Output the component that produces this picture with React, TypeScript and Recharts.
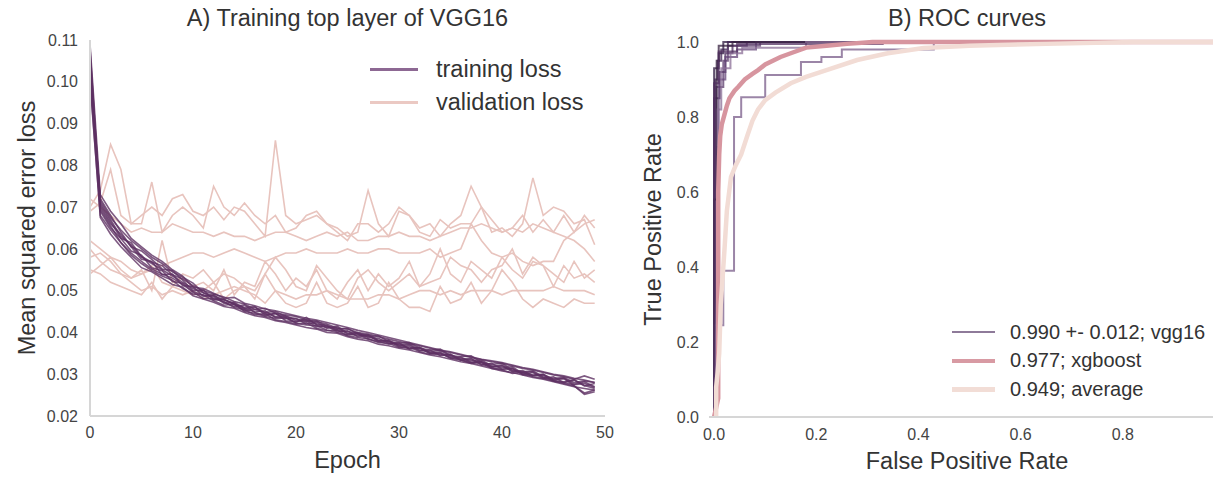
import React from 'react';
import { LineChart, Line, XAxis, YAxis, Legend } from 'recharts';

// ---- A) training / validation loss, 50 epochs ----
const EPOCHS = Array.from({ length: 50 }, (_, i) => i);
const EPOCH_TICKS = [0, 10, 20, 30, 40, 50];
const LOSS_TICKS = [0.02, 0.03, 0.04, 0.05, 0.06, 0.07, 0.08, 0.09, 0.1, 0.11];

const TRAIN_0 = [0.107,0.071,0.067,0.063,0.061,0.058,0.0565,0.055,0.0535,0.052,0.0505,0.0495,0.0482,0.0478,0.0468,0.0452,0.0455,0.0447,0.0438,0.044,0.0428,0.0431,0.042,0.0418,0.0405,0.0402,0.0398,0.0388,0.0386,0.0374,0.0372,0.0362,0.0365,0.0352,0.035,0.034,0.0341,0.0328,0.033,0.0318,0.032,0.0306,0.0309,0.0297,0.03,0.0288,0.029,0.0276,0.0282,0.027];
const TRAIN_1 = [0.105,0.069,0.065,0.0625,0.0595,0.0585,0.0555,0.0548,0.0522,0.0518,0.0498,0.0489,0.0486,0.047,0.0472,0.0458,0.0449,0.0452,0.0436,0.0433,0.0434,0.042,0.0424,0.041,0.0412,0.0396,0.0399,0.0392,0.038,0.0382,0.0368,0.037,0.0356,0.0358,0.0345,0.0347,0.0333,0.0336,0.0322,0.0326,0.0312,0.0314,0.03,0.0304,0.029,0.0294,0.028,0.0286,0.0272,0.0278];
const TRAIN_2 = [0.102,0.072,0.068,0.064,0.0605,0.0575,0.057,0.0538,0.054,0.0512,0.051,0.0486,0.049,0.0472,0.0462,0.0466,0.0448,0.044,0.0446,0.0428,0.0426,0.0428,0.0414,0.0416,0.0401,0.0404,0.039,0.0393,0.0379,0.0372,0.0376,0.036,0.0362,0.035,0.0353,0.0339,0.0336,0.0338,0.0324,0.0318,0.0322,0.0308,0.0304,0.0306,0.0292,0.0286,0.029,0.0272,0.0252,0.0258];
const TRAIN_3 = [0.108,0.07,0.066,0.0635,0.0605,0.0595,0.0575,0.0552,0.0548,0.0525,0.05,0.0502,0.0478,0.048,0.0466,0.046,0.0462,0.0442,0.0445,0.0435,0.0424,0.0436,0.0418,0.0412,0.0415,0.0398,0.0392,0.0395,0.0382,0.0378,0.037,0.0372,0.0358,0.0354,0.0357,0.0343,0.0338,0.0332,0.0334,0.032,0.0316,0.0318,0.0302,0.0298,0.03,0.0285,0.0282,0.0287,0.0273,0.0266];
const TRAIN_4 = [0.1,0.068,0.0645,0.0615,0.0585,0.0565,0.0548,0.0535,0.0525,0.0505,0.0492,0.049,0.0476,0.0465,0.0468,0.045,0.0446,0.0438,0.0434,0.0436,0.0422,0.0418,0.0416,0.0406,0.04,0.0394,0.0396,0.0384,0.0378,0.038,0.0366,0.0362,0.0364,0.035,0.0346,0.0348,0.0334,0.0328,0.033,0.0316,0.0312,0.0314,0.0299,0.0296,0.0298,0.0283,0.028,0.0275,0.0278,0.0268];
const TRAIN_5 = [0.106,0.0705,0.0665,0.0625,0.0615,0.0582,0.0568,0.056,0.0538,0.0528,0.0512,0.05,0.0492,0.0485,0.0474,0.0468,0.0455,0.0458,0.0446,0.0442,0.0438,0.043,0.0426,0.042,0.041,0.0408,0.04,0.0396,0.039,0.0384,0.0378,0.0373,0.0368,0.0362,0.0356,0.0352,0.0346,0.034,0.0335,0.033,0.0326,0.032,0.0314,0.031,0.0304,0.0298,0.0294,0.0288,0.0296,0.0288];
const TRAIN_6 = [0.103,0.0695,0.0655,0.0615,0.059,0.057,0.0552,0.054,0.053,0.0515,0.0496,0.0482,0.048,0.0474,0.046,0.0455,0.0442,0.0445,0.043,0.0426,0.042,0.0423,0.041,0.0404,0.0406,0.0392,0.0388,0.0385,0.0376,0.0374,0.0364,0.0366,0.0354,0.0348,0.035,0.0338,0.0334,0.0326,0.0328,0.0314,0.031,0.0302,0.0305,0.0294,0.029,0.0284,0.0278,0.0272,0.0255,0.0262];
const TRAIN_7 = [0.104,0.0715,0.0675,0.0645,0.062,0.06,0.058,0.0565,0.0545,0.0532,0.0518,0.0495,0.0488,0.0478,0.047,0.0456,0.046,0.0448,0.045,0.0438,0.0432,0.0426,0.0428,0.0414,0.0408,0.041,0.0396,0.039,0.0392,0.0378,0.0374,0.0376,0.0362,0.0358,0.036,0.0345,0.0342,0.0344,0.0328,0.0324,0.0326,0.031,0.0306,0.0308,0.0294,0.029,0.0292,0.028,0.0284,0.028];
const TRAIN_8 = [0.101,0.0675,0.0635,0.0605,0.058,0.0555,0.0545,0.053,0.0515,0.0508,0.0488,0.048,0.0472,0.0462,0.0458,0.0448,0.044,0.0436,0.0428,0.0424,0.0418,0.0412,0.0408,0.04,0.0398,0.039,0.0384,0.038,0.0372,0.0368,0.0362,0.0358,0.0352,0.0346,0.0342,0.0336,0.033,0.0326,0.032,0.0314,0.0308,0.0304,0.0298,0.0292,0.0288,0.0282,0.0276,0.027,0.0266,0.0262];
const TRAIN_9 = [0.109,0.073,0.069,0.066,0.0625,0.0605,0.0585,0.057,0.055,0.0535,0.0508,0.0505,0.0494,0.0482,0.0484,0.047,0.0464,0.0456,0.0452,0.0446,0.044,0.0434,0.043,0.0424,0.0418,0.0412,0.0405,0.04,0.0394,0.0388,0.0382,0.0376,0.037,0.0364,0.0358,0.0354,0.0348,0.0342,0.0336,0.0332,0.0328,0.0322,0.0316,0.0312,0.0306,0.03,0.0296,0.029,0.0286,0.028];

const VAL_0 = [0.07,0.074,0.085,0.079,0.066,0.068,0.07,0.068,0.072,0.073,0.069,0.068,0.07,0.067,0.07,0.069,0.066,0.063,0.086,0.068,0.066,0.067,0.068,0.066,0.065,0.063,0.064,0.074,0.066,0.063,0.069,0.068,0.065,0.066,0.063,0.066,0.068,0.075,0.07,0.064,0.065,0.063,0.066,0.077,0.068,0.07,0.069,0.066,0.067,0.061];
const VAL_1 = [0.069,0.071,0.079,0.068,0.066,0.066,0.076,0.064,0.068,0.07,0.068,0.065,0.075,0.07,0.068,0.071,0.068,0.066,0.068,0.064,0.065,0.068,0.069,0.066,0.064,0.062,0.066,0.066,0.064,0.066,0.07,0.068,0.064,0.063,0.067,0.065,0.066,0.066,0.07,0.067,0.064,0.065,0.068,0.064,0.067,0.064,0.068,0.064,0.068,0.065];
const VAL_2 = [0.072,0.07,0.068,0.066,0.064,0.065,0.064,0.064,0.066,0.065,0.064,0.064,0.063,0.064,0.063,0.063,0.062,0.063,0.064,0.064,0.063,0.062,0.063,0.064,0.063,0.064,0.062,0.062,0.063,0.063,0.064,0.063,0.063,0.062,0.063,0.064,0.065,0.065,0.066,0.065,0.064,0.065,0.064,0.066,0.065,0.064,0.063,0.062,0.06,0.057];
const VAL_3 = [0.062,0.06,0.058,0.057,0.055,0.054,0.055,0.056,0.057,0.058,0.059,0.059,0.058,0.059,0.06,0.059,0.058,0.057,0.058,0.059,0.059,0.06,0.059,0.059,0.059,0.06,0.059,0.059,0.06,0.06,0.059,0.059,0.059,0.06,0.058,0.059,0.06,0.066,0.062,0.059,0.058,0.059,0.057,0.056,0.057,0.057,0.062,0.064,0.066,0.067];
const VAL_4 = [0.06,0.057,0.055,0.054,0.052,0.05,0.051,0.049,0.05,0.049,0.05,0.048,0.049,0.05,0.051,0.05,0.049,0.047,0.05,0.049,0.048,0.049,0.049,0.05,0.049,0.048,0.048,0.048,0.049,0.049,0.048,0.049,0.05,0.05,0.049,0.05,0.049,0.05,0.05,0.05,0.049,0.05,0.05,0.05,0.05,0.051,0.05,0.05,0.05,0.049];
const VAL_5 = [0.058,0.059,0.057,0.054,0.053,0.055,0.05,0.062,0.052,0.053,0.051,0.052,0.05,0.055,0.049,0.052,0.051,0.057,0.054,0.05,0.053,0.051,0.055,0.05,0.048,0.052,0.055,0.05,0.054,0.051,0.053,0.057,0.051,0.054,0.06,0.054,0.052,0.057,0.055,0.053,0.058,0.055,0.053,0.057,0.056,0.051,0.056,0.053,0.054,0.052];
const VAL_6 = [0.055,0.054,0.052,0.051,0.05,0.049,0.052,0.048,0.051,0.05,0.049,0.05,0.052,0.048,0.05,0.051,0.048,0.054,0.05,0.047,0.046,0.047,0.052,0.047,0.046,0.047,0.051,0.046,0.047,0.052,0.048,0.046,0.046,0.045,0.051,0.047,0.048,0.052,0.047,0.05,0.055,0.052,0.048,0.046,0.048,0.047,0.046,0.048,0.047,0.047];
const VAL_7 = [0.054,0.056,0.058,0.055,0.053,0.054,0.056,0.052,0.051,0.054,0.053,0.055,0.052,0.054,0.053,0.051,0.05,0.054,0.058,0.055,0.051,0.05,0.056,0.053,0.05,0.048,0.053,0.055,0.052,0.05,0.052,0.054,0.051,0.052,0.053,0.058,0.056,0.055,0.052,0.055,0.056,0.06,0.054,0.058,0.056,0.054,0.052,0.057,0.053,0.055];

const TRAIN_RUNS = [TRAIN_0, TRAIN_1, TRAIN_2, TRAIN_3, TRAIN_4, TRAIN_5, TRAIN_6, TRAIN_7, TRAIN_8, TRAIN_9];
const VAL_RUNS = [VAL_0, VAL_1, VAL_2, VAL_3, VAL_4, VAL_5, VAL_6, VAL_7];

// ---- B) ROC curves ----
const VGG_FPR = [
  [0, 0, 0.009, 0.009, 0.018, 0.018, 1],
  [0, 0.002, 0.002, 0.007, 0.007, 0.014, 0.014, 0.027, 0.027, 1],
  [0, 0, 0.011, 0.011, 0.022, 0.022, 0.036, 0.036, 0.064, 0.064, 1],
  [0, 0.004, 0.004, 0.018, 0.018, 0.027, 0.027, 0.09, 0.09, 1],
  [0, 0, 0.018, 0.018, 0.039, 0.039, 0.053, 0.053, 0.1, 0.1, 0.17, 0.17, 0.21, 0.21, 0.25, 0.25, 0.43, 0.43, 1],
  [0, 0.005, 0.005, 0.009, 0.009, 0.022, 0.022, 0.045, 0.045, 0.082, 0.082, 1],
  [0, 0, 0.005, 0.005, 0.009, 0.009, 0.036, 0.036, 1],
  [0, 0.007, 0.007, 0.014, 0.014, 0.032, 0.032, 0.055, 0.055, 0.18, 0.18, 1],
  [0, 0, 0.009, 0.009, 0.045, 0.045, 0.33, 0.33, 1],
];
const VGG_TPR = [
  [0, 0.93, 0.93, 0.97, 0.97, 1, 1],
  [0, 0, 0.9, 0.9, 0.95, 0.95, 0.98, 0.98, 1, 1],
  [0, 0.85, 0.85, 0.92, 0.92, 0.97, 0.97, 0.99, 0.99, 1, 1],
  [0, 0.6, 0.88, 0.88, 0.95, 0.95, 0.99, 0.99, 1, 1],
  [0, 0.245, 0.245, 0.39, 0.39, 0.8, 0.8, 0.853, 0.853, 0.912, 0.912, 0.947, 0.947, 0.96, 0.96, 0.98, 0.98, 1, 1],
  [0, 0.3, 0.72, 0.72, 0.9, 0.9, 0.96, 0.96, 0.98, 0.98, 1, 1],
  [0, 0.58, 0.58, 0.95, 0.95, 0.99, 0.99, 1, 1],
  [0, 0.4, 0.82, 0.82, 0.93, 0.93, 0.97, 0.97, 0.985, 0.985, 1, 1],
  [0, 0.89, 0.89, 0.975, 0.975, 0.995, 0.995, 1, 1],
];
const VGG_COLORS = ['#2d1a3f', '#3e2150', '#4a2a5c', '#5a3a6a', '#7a5c8a', '#66467a', '#35203f', '#8a6d96', '#523060'];

const XGB_FPR = [0, 0.008, 0.008, 0.01, 0.012, 0.015, 0.02, 0.025, 0.03, 0.04, 0.047, 0.06, 0.075, 0.086, 0.1, 0.13, 0.15, 0.18, 0.22, 0.26, 0.31, 1];
const XGB_TPR = [0, 0.05, 0.6, 0.7, 0.75, 0.78, 0.805, 0.83, 0.85, 0.87, 0.88, 0.9, 0.915, 0.925, 0.94, 0.96, 0.97, 0.985, 0.99, 0.995, 1, 1];
const AVG_FPR = [0.004, 0.004, 0.007, 0.01, 0.013, 0.017, 0.02, 0.025, 0.033, 0.042, 0.053, 0.065, 0.075, 0.086, 0.1, 0.12, 0.15, 0.18, 0.22, 0.28, 0.34, 0.41, 0.5, 0.65, 0.82, 1];
const AVG_TPR = [0, 0.08, 0.12, 0.17, 0.3, 0.38, 0.44, 0.55, 0.64, 0.67, 0.7, 0.75, 0.79, 0.82, 0.845, 0.865, 0.89, 0.907, 0.925, 0.952, 0.97, 0.984, 0.99, 0.995, 1, 1];

const RATE_TICKS_X = [0, 0.2, 0.4, 0.6, 0.8];
const RATE_TICKS_Y = [0, 0.2, 0.4, 0.6, 0.8, 1.0];

const FONT = '"Liberation Sans", Arial, sans-serif';
const TICK = { fontSize: 16, fill: '#444', fontFamily: FONT };
const SPINE = { stroke: '#d6d6d6', strokeWidth: 2 };
const AXIS_LABEL = { fontSize: 23.5, fill: '#333', fontFamily: FONT };

const lossRows = EPOCHS.map((epoch, i) => {
  const row: Record<string, number> = { epoch };
  TRAIN_RUNS.forEach((r, k) => (row[`t${k}`] = r[i]));
  VAL_RUNS.forEach((r, k) => (row[`v${k}`] = r[i]));
  return row;
});

const zipCurve = (fpr: number[], tpr: number[]) => fpr.map((f, i) => ({ fpr: f, tpr: tpr[i] }));
const vggCurves = VGG_FPR.map((f, i) => zipCurve(f, VGG_TPR[i]));
const xgbCurve = zipCurve(XGB_FPR, XGB_TPR);
const avgCurve = zipCurve(AVG_FPR, AVG_TPR);

type Item = { label: string; color: string; width: number };

function LegendBox({ items, fontSize, rowH, swatch, gap }: { items: Item[]; fontSize: number; rowH: number; swatch: number; gap: number }) {
  return (
    <div style={{ fontFamily: FONT, fontSize, color: '#333' }}>
      {items.map((it) => (
        <div key={it.label} style={{ display: 'flex', alignItems: 'center', height: rowH, whiteSpace: 'nowrap' }}>
          <div style={{ width: swatch, height: it.width, background: it.color, marginRight: gap }} />
          <span>{it.label}</span>
        </div>
      ))}
    </div>
  );
}

const titleStyle: React.CSSProperties = {
  position: 'absolute', top: 5, fontFamily: FONT, fontSize: 23.5, color: '#333', textAlign: 'center', whiteSpace: 'nowrap',
};

export default function App() {
  return (
    <div style={{ position: 'absolute', left: 0, top: 0, width: 1213, height: 477, background: '#fff', overflow: 'hidden' }}>
      {/* Left panel: loss curves */}
      <div style={{ position: 'absolute', left: 0, top: 0 }}>
        <LineChart width={620} height={477} data={lossRows} margin={{ top: 40, right: 15, bottom: 21, left: 30 }}>
          <XAxis
            dataKey="epoch" type="number" domain={[0, 50]} ticks={EPOCH_TICKS}
            tickLine={false} tickSize={0} tickMargin={11} axisLine={SPINE} tick={TICK} height={40}
            label={{ value: 'Epoch', position: 'bottom', offset: -5, ...AXIS_LABEL }}
          />
          <YAxis
            type="number" domain={[0.02, 0.11]} ticks={LOSS_TICKS} tickFormatter={(v) => v.toFixed(2)}
            tickLine={false} tickSize={0} tickMargin={12} axisLine={SPINE} tick={TICK} width={60}
            label={{ value: 'Mean squared error loss', angle: -90, position: 'center', dx: -33, ...AXIS_LABEL }}
          />
          {VAL_RUNS.map((_, k) => (
            <Line key={`v${k}`} dataKey={`v${k}`} type="linear" stroke="#e8c4be" strokeWidth={1.6} dot={false} isAnimationActive={false} />
          ))}
          {TRAIN_RUNS.map((_, k) => (
            <Line key={`t${k}`} dataKey={`t${k}`} type="linear" stroke="#5e3163" strokeOpacity={0.8} strokeWidth={1.6} dot={false} isAnimationActive={false} />
          ))}
          <Legend
            verticalAlign="middle" align="center" layout="horizontal"
            wrapperStyle={{ left: 370, top: 53, width: 'auto' }}
            content={() => (
              <LegendBox
                fontSize={23.5} rowH={33} swatch={48} gap={18}
                items={[
                  { label: 'training loss', color: '#8d6893', width: 2.2 },
                  { label: 'validation loss', color: '#ebc9c3', width: 2.2 },
                ]}
              />
            )}
          />
        </LineChart>
        <div style={{ ...titleStyle, left: 90, width: 515 }}>A) Training top layer of VGG16</div>
      </div>

      {/* Right panel: ROC curves (the axis runs past the picture's right edge) */}
      <div style={{ position: 'absolute', left: 620, top: 0 }}>
        <LineChart width={605} height={477} margin={{ top: 42, right: 0, bottom: 20, left: 34 }}>
          <XAxis
            dataKey="fpr" type="number" domain={[-0.01, 1.0]} ticks={RATE_TICKS_X} allowDataOverflow
            tickFormatter={(v) => v.toFixed(1)}
            tickLine={false} tickSize={0} tickMargin={12} axisLine={SPINE} tick={TICK} height={40}
            label={{ value: 'False Positive Rate', position: 'bottom', offset: -5, ...AXIS_LABEL }}
          />
          <YAxis
            type="number" domain={[0, 1]} ticks={RATE_TICKS_Y} tickFormatter={(v) => v.toFixed(1)}
            tickLine={false} tickSize={0} tickMargin={10} axisLine={false} tick={TICK} width={55}
            label={{ value: 'True Positive Rate', angle: -90, position: 'center', dx: -29, ...AXIS_LABEL }}
          />
          {vggCurves.map((c, k) => (
            <Line key={`vgg${k}`} data={c} dataKey="tpr" type="linear" stroke={VGG_COLORS[k]} strokeOpacity={0.75} strokeWidth={2} dot={false} isAnimationActive={false} />
          ))}
          <Line data={xgbCurve} dataKey="tpr" type="linear" stroke="#d7959f" strokeWidth={4.5} dot={false} isAnimationActive={false} />
          <Line data={avgCurve} dataKey="tpr" type="linear" stroke="#f2dcd5" strokeWidth={4.5} dot={false} isAnimationActive={false} />
          <Legend
            verticalAlign="middle" align="center" layout="horizontal"
            wrapperStyle={{ left: 332, top: 318, width: 'auto' }}
            content={() => (
              <LegendBox
                fontSize={20} rowH={28.5} swatch={43} gap={15}
                items={[
                  { label: '0.990 +- 0.012; vgg16', color: '#8e7a99', width: 2.2 },
                  { label: '0.977; xgboost', color: '#d89aa3', width: 4.5 },
                  { label: '0.949; average', color: '#f2ddd6', width: 4.5 },
                ]}
              />
            )}
          />
        </LineChart>
        <div style={{ ...titleStyle, left: 89, width: 516 }}>B) ROC curves</div>
      </div>
    </div>
  );
}
